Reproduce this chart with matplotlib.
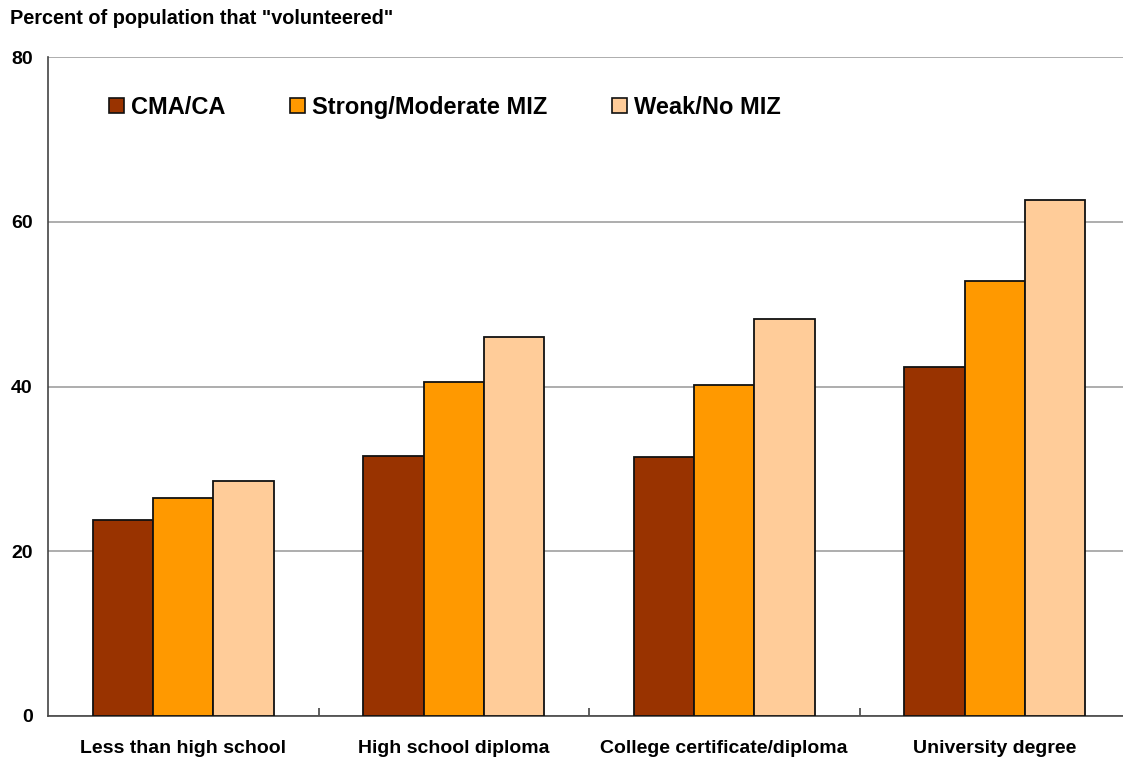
import matplotlib
matplotlib.use("Agg")
import matplotlib.pyplot as plt
from matplotlib.patches import Patch
import numpy as np

plt.rcParams['font.family'] = ['Liberation Sans', 'DejaVu Sans']

categories = ["Less than high school", "High school diploma",
              "College certificate/diploma", "University degree"]
series_names = ["CMA/CA", "Strong/Moderate MIZ", "Weak/No MIZ"]
cma_ca = [23.8, 31.6, 31.4, 42.4]
strong_moderate_miz = [26.5, 40.5, 40.2, 52.8]
weak_no_miz = [28.5, 46.0, 48.2, 62.6]
colors = ["#993300", "#FF9900", "#FFCC99"]
yticks = [0, 20, 40, 60, 80]

W, H = 1123, 758
fig = plt.figure(figsize=(W / 100, H / 100), dpi=100)
left, right, bottom, top = 48, 1130, 716, 57
ax = fig.add_axes([left / W, 1 - bottom / H, (right - left) / W, (bottom - top) / H])

x = np.arange(len(categories))
bw = 0.223
for i, (vals, c) in enumerate(zip([cma_ca, strong_moderate_miz, weak_no_miz], colors)):
    ax.bar(x + (i - 1) * bw, vals, width=bw, color=c, edgecolor="#111111",
           linewidth=1.3, zorder=3)

ax.set_xlim(-0.5, len(categories) - 0.5)
ax.set_ylim(0, 80)
ax.set_yticks(yticks)
ax.set_yticklabels([str(v) for v in yticks], fontsize=14, fontweight='bold')
ax.yaxis.grid(True, color="#a0a0a0", linewidth=1.2, zorder=0)
ax.tick_params(axis='y', length=0, pad=11)

ax.set_xticks(x)
ax.set_xticklabels(categories, fontsize=14, fontweight='bold')
ax.tick_params(axis='x', length=0, pad=17)
ax.set_xticks(np.arange(0.5, len(categories) - 0.5, 1), minor=True)
ax.tick_params(axis='x', which='minor', direction='in', length=6, color="#444444", width=1.2)

for s in ['top', 'right']:
    ax.spines[s].set_visible(False)
ax.spines['left'].set_color("#444444")
ax.spines['bottom'].set_color("#444444")
ax.spines['left'].set_linewidth(1.2)
ax.spines['bottom'].set_linewidth(1.2)

handles = [Patch(facecolor=c, edgecolor="#111111", linewidth=1.2) for c in colors]
ax.legend(handles, series_names, ncol=3, frameon=False,
          loc='upper left', bbox_to_anchor=(61 / (right - left), 1 - 39 / (bottom - top)),
          prop={'size': 17, 'weight': 'bold'}, handlelength=0.62, handleheight=0.62,
          handletextpad=0.3, columnspacing=2.75, borderaxespad=0, borderpad=0)

fig.text(10 / W, 1 - 19 / H, 'Percent of population that "volunteered"',
         fontsize=14.3, fontweight='bold', va='center', ha='left')

fig.savefig("out.png", dpi=100)
